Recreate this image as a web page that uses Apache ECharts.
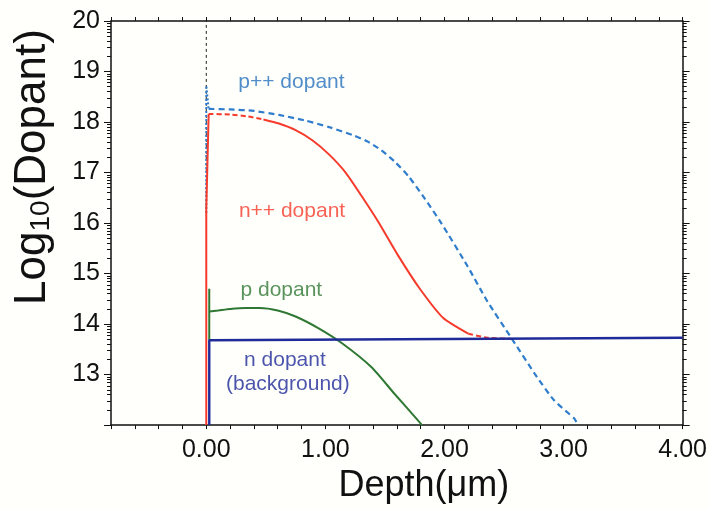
<!DOCTYPE html>
<html>
<head>
<meta charset="utf-8">
<script src="https://cdn.jsdelivr.net/npm/echarts@6/dist/echarts.min.js"></script>
<style>
    html, body { margin: 0; padding: 0; background: #fffffb; }
    #chart { width: 710px; height: 509px; }
</style>
</head>
<body>
<div id="chart"></div>
<script>
// depth in um, value is log10 of dopant concentration
var refLine = [[0, 16.3], [0, 20]];

var pppSpike = [[0, 16.2], [0, 18.72], [0.02, 18.26]];
var pppProfile = [
    [0.02, 18.26], [0.2, 18.25], [0.4, 18.22], [0.61, 18.14], [0.83, 18.03], [1.03, 17.9],
    [1.23, 17.74], [1.35, 17.62], [1.47, 17.44], [1.58, 17.22], [1.7, 16.92], [1.83, 16.5],
    [1.97, 16.01], [2.19, 15.16], [2.36, 14.45], [2.56, 13.73], [2.76, 13.01], [2.92, 12.49],
    [3.09, 12.13], [3.12, 12.0]
];

var nppEdge = [[0, 12], [0, 16.27], [0.02, 18.16]];
var nppTop = [[0.02, 18.16], [0.2, 18.15], [0.35, 18.11], [0.48, 18.05]];
var nppProfile = [
    [0.48, 18.05], [0.61, 17.97], [0.75, 17.84], [0.89, 17.64], [1.03, 17.36], [1.17, 17.0],
    [1.3, 16.55], [1.44, 16.04], [1.61, 15.36], [1.79, 14.71], [1.99, 14.12], [2.2, 13.81]
];
var nppTail = [[2.2, 13.81], [2.36, 13.73], [2.56, 13.71]];

var pEdge = [[0.025, 13.68], [0.025, 14.7]];
var pProfile = [
    [0.025, 14.25], [0.1, 14.27], [0.2, 14.3], [0.33, 14.32], [0.45, 14.32], [0.6, 14.27],
    [0.75, 14.15], [0.94, 13.92], [1.14, 13.62], [1.39, 13.14], [1.58, 12.62], [1.79, 12.06],
    [1.81, 12.0]
];

var nBackground = [[0.025, 12], [0.025, 13.68], [4, 13.73]];

var labelTexts = ['p++ dopant', 'n++ dopant', 'p dopant', 'n dopant', '(background)'];
var labelSpots = [[0.715, 18.79], [0.72, 16.24], [0.63, 14.67], [0.66, 13.28], [0.685, 12.81]];

var blueColor = '#2f7dcc';
var redColor = '#f63b2c';
var greenColor = '#2f7833';
var navyColor = '#1f2b99';
var labelColors = ['#2670bd', redColor, greenColor, navyColor, navyColor];

// log style minor ticks between the decades
var minorTicks = [];
for (var n = 12; n < 20; n++) {
    for (var k = 2; k <= 9; k++) {
        minorTicks.push(n + Math.log10(k));
    }
}

function isWhole(v) {
    return Math.abs(v - Math.round(v)) < 1e-6;
}

function lineSeries(data, color, width, type, smooth) {
    return {
        type: 'line',
        data: data,
        showSymbol: false,
        symbol: 'none',
        smooth: smooth || false,
        silent: true,
        lineStyle: {
            color: color,
            width: width,
            type: type || 'solid',
        },
    };
}

var chart = echarts.init(document.getElementById('chart'), null, { renderer: 'canvas' });

var axisLine = { show: true, onZero: false, lineStyle: { color: '#111', width: 1.5 } };
var noLine = { show: false, onZero: false };
var font = 'Liberation Sans, Arial, sans-serif';

var chartOptions = {
    backgroundColor: '#fffffb',
    animation: false,
    grid: {
        left: 111,
        right: 25,
        top: 21,
        bottom: 81,
    },
    xAxis: [
        {
            type: 'value',
            min: -0.8,
            max: 4,
            interval: 0.2,
            position: 'bottom',
            axisLine: axisLine,
            axisTick: { length: 4, lineStyle: { color: '#111' } },
            splitLine: { show: false },
            axisLabel: {
                margin: 13,
                fontSize: 25,
                fontFamily: font,
                color: '#111',
                formatter: function(v) {
                    return isWhole(v) ? Math.round(v).toFixed(2) : '';
                },
            },
            name: 'Depth(μm)',
            nameLocation: 'middle',
            nameGap: 30,
            nameTextStyle: {
                fontSize: 36,
                fontFamily: font,
                color: '#111',
                padding: [0, 0, 0, 54],
            },
        },
        {
            type: 'value',
            min: -0.8,
            max: 4,
            interval: 0.2,
            position: 'top',
            axisLine: axisLine,
            axisTick: { length: 4, lineStyle: { color: '#111' } },
            axisLabel: { show: false },
            splitLine: { show: false },
        },
    ],
    yAxis: [
        {
            type: 'value',
            min: 12,
            max: 20,
            interval: 1,
            position: 'left',
            axisLine: axisLine,
            axisTick: { length: 7, lineStyle: { color: '#111' } },
            splitLine: { show: false },
            axisLabel: {
                margin: 11,
                fontSize: 25,
                fontFamily: font,
                color: '#111',
                formatter: function(v) {
                    return v > 12 ? String(v) : '';
                },
            },
            name: 'Log{sub|10}(Dopant)',
            nameLocation: 'middle',
            nameGap: 56,
            nameTextStyle: {
                fontSize: 44,
                fontFamily: font,
                color: '#111',
                padding: [0, 0, 0, 112],
                rich: {
                    sub: {
                        fontSize: 28,
                        fontFamily: font,
                        color: '#111',
                        verticalAlign: 'bottom',
                        lineHeight: 20,
                    },
                },
            },
        },
        {
            type: 'value',
            min: 12,
            max: 20,
            position: 'left',
            axisLine: noLine,
            axisTick: { show: true, length: 4, customValues: minorTicks, lineStyle: { color: '#111' } },
            axisLabel: { show: false },
            splitLine: { show: false },
        },
        {
            type: 'value',
            min: 12,
            max: 20,
            interval: 1,
            position: 'right',
            axisLine: axisLine,
            axisTick: { length: 7, lineStyle: { color: '#111' } },
            axisLabel: { show: false },
            splitLine: { show: false },
        },
        {
            type: 'value',
            min: 12,
            max: 20,
            position: 'right',
            axisLine: noLine,
            axisTick: { show: true, length: 4, customValues: minorTicks, lineStyle: { color: '#111' } },
            axisLabel: { show: false },
            splitLine: { show: false },
        },
    ],
    series: [
        lineSeries(refLine, '#222', 1, [3, 3]),
        lineSeries(pppSpike, blueColor, 2, [2, 2]),
        lineSeries(pppProfile, blueColor, 2.2, [6, 4], 0.2),
        lineSeries(nppEdge, redColor, 2),
        lineSeries(nppTop, redColor, 2, [5, 3], 0.2),
        lineSeries(nppProfile, redColor, 2, 'solid', 0.2),
        lineSeries(nppTail, redColor, 2, [5, 3], 0.2),
        lineSeries(pEdge, greenColor, 2),
        lineSeries(pProfile, greenColor, 2, 'solid', 0.2),
        lineSeries(nBackground, navyColor, 2.4),
        {
            type: 'scatter',
            symbolSize: 0,
            silent: true,
            data: labelSpots.map(function(spot, i) {
                return {
                    value: spot,
                    name: labelTexts[i],
                    label: { color: labelColors[i] },
                };
            }),
            label: {
                show: true,
                position: 'inside',
                fontSize: 21,
                fontFamily: font,
                formatter: function(params) {
                    return params.name;
                },
            },
        },
    ],
};

chart.setOption(chartOptions);
</script>
</body>
</html>
